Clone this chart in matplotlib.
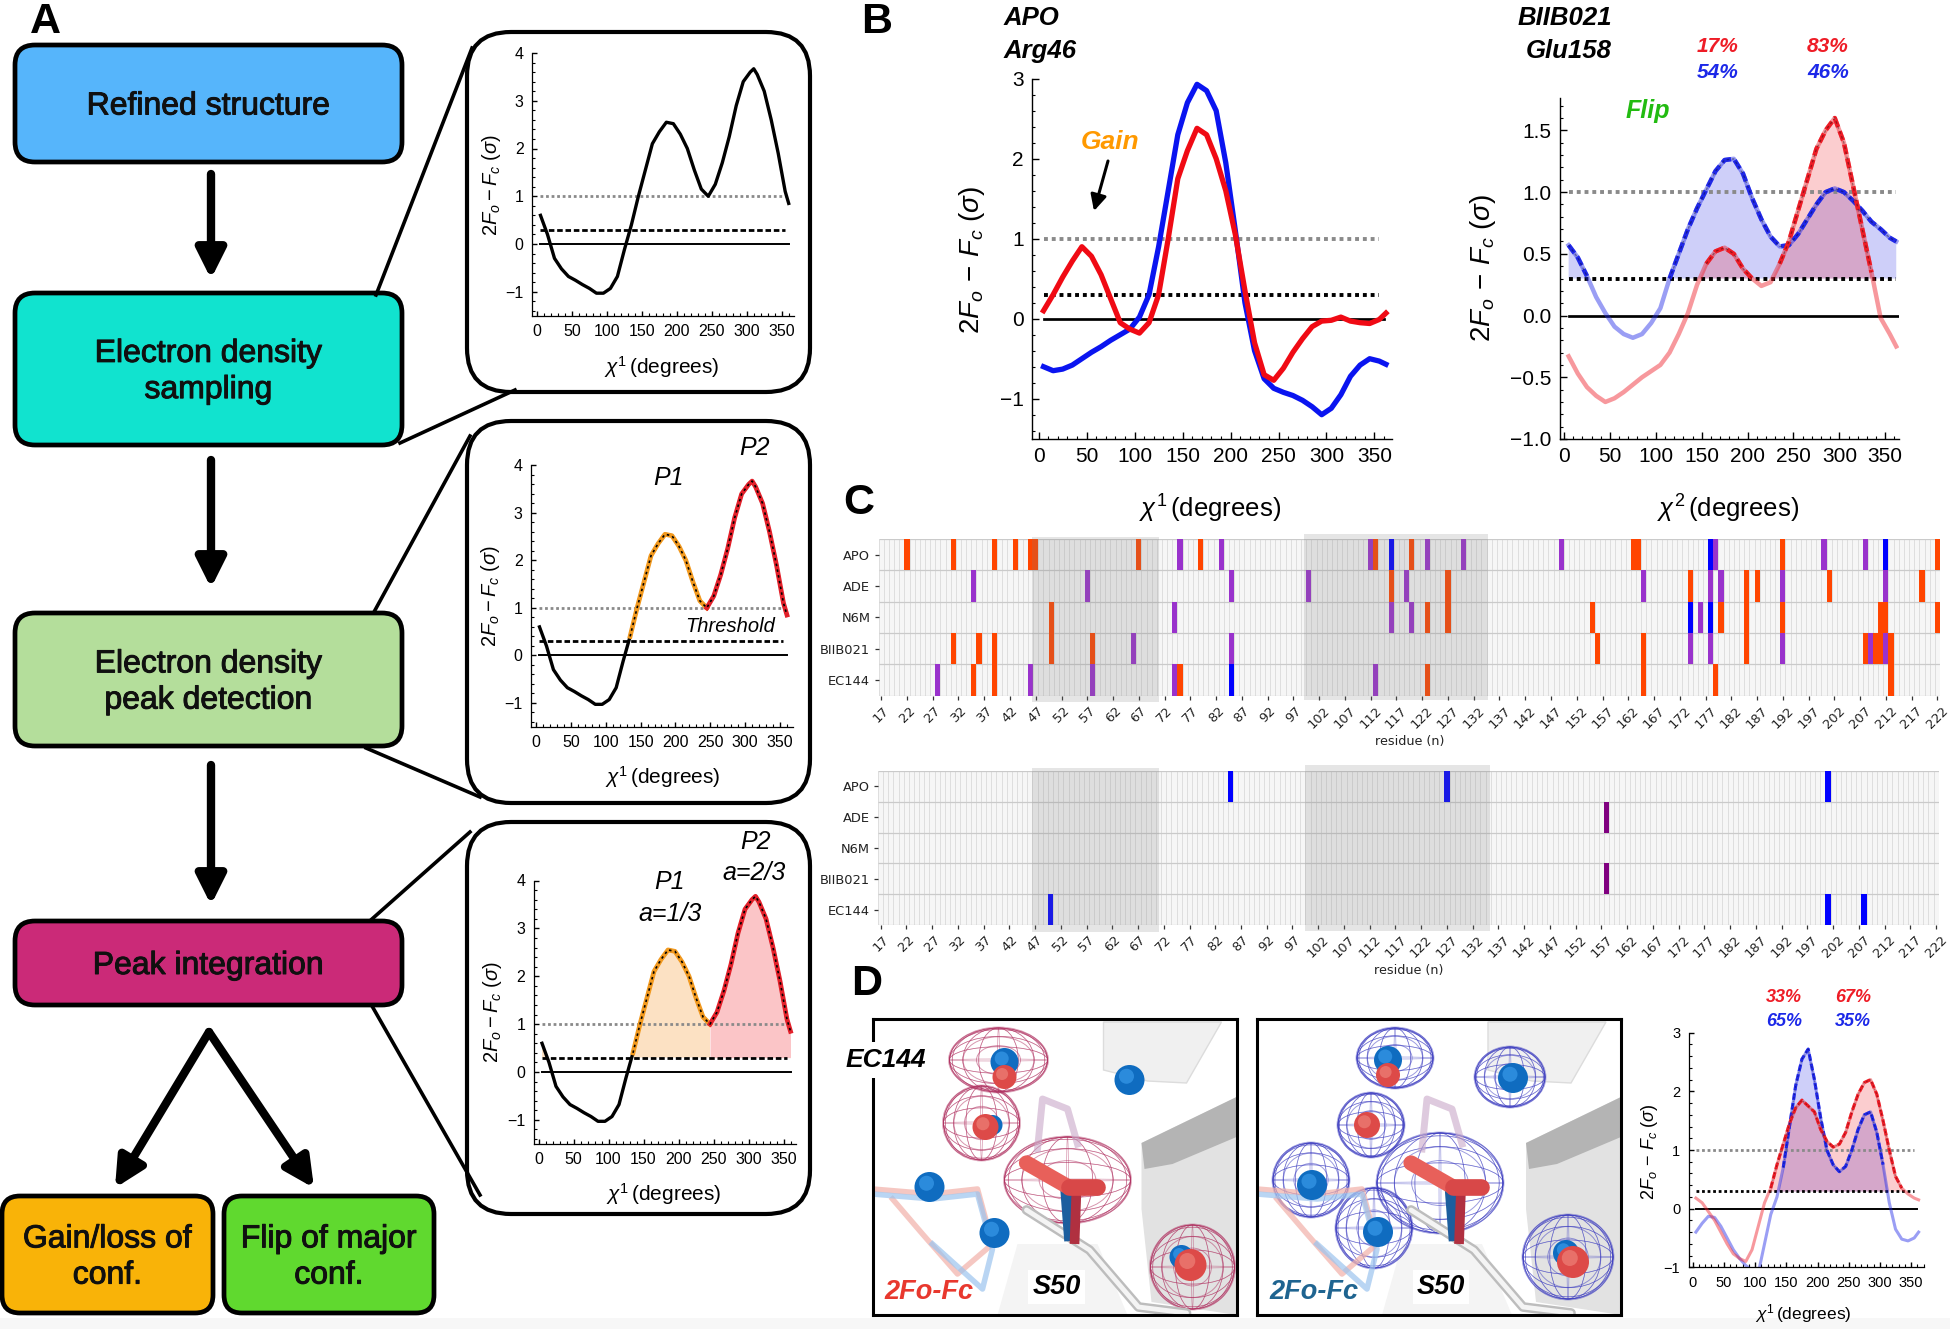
import numpy as np
import matplotlib
matplotlib.use('Agg')
import matplotlib.pyplot as plt
import matplotlib.patheffects as pe
from matplotlib.colors import ListedColormap
from matplotlib.patches import FancyBboxPatch, FancyArrowPatch, Rectangle, Ellipse, Polygon, Circle
from matplotlib.ticker import MultipleLocator

plt.rcParams['font.family'] = ['Liberation Sans', 'DejaVu Sans']
plt.rcParams['mathtext.fontset'] = 'custom'
plt.rcParams['mathtext.rm'] = 'Liberation Sans'
plt.rcParams['mathtext.it'] = 'Liberation Sans:italic'
plt.rcParams['mathtext.bf'] = 'Liberation Sans:bold'
plt.rcParams['mathtext.fallback'] = 'stix'

W, H = 1950, 1329

# example curve used in the three insets of panel A
inset_chi = list(range(5, 306, 10)) + [310, 315, 325, 335, 345, 355, 360]
inset_rho = [.6, .2, -.3, -.52, -.68, -.76, -.85, -.93, -1.03, -1.03, -.93, -.68, -.12, .4, 1.0, 1.55,
             2.1, 2.35, 2.55, 2.52, 2.3, 2.0, 1.55, 1.15, 1.0, 1.25, 1.7, 2.25, 2.9, 3.4, 3.6, 3.67, 3.55,
             3.2, 2.6, 1.9, 1.1, .85]

# panels B and D
chi_grid = list(range(5, 360, 10)) + [362]
arg46_blue = [-.6, -.65, -.63, -.58, -.5, -.42, -.35, -.27, -.2, -.13, .02, .3, .9, 1.6, 2.3, 2.7, 2.93,
              2.85, 2.6, 1.95, 1.1, .2, -.4, -.75, -.87, -.92, -.96, -1.02, -1.1, -1.2, -1.12, -.95,
              -.72, -.58, -.5, -.53, -.57]
arg46_red = [.1, .3, .52, .72, .9, .78, .55, .25, -.05, -.13, -.18, -.05, .3, 1.0, 1.75, 2.1, 2.38, 2.3,
             2.0, 1.6, 1.05, .35, -.3, -.7, -.77, -.62, -.42, -.25, -.1, -.03, -.02, .02, -.03, -.05,
             -.06, -.01, .07]
glu158_blue = [.57, .47, .32, .15, .02, -.09, -.15, -.18, -.15, -.06, .06, .3, .5, .7, .87, 1.02, 1.17,
               1.26, 1.27, 1.15, .95, .78, .64, .56, .57, .66, .78, .9, 1.0, 1.03, 1.0, .93, .85, .76,
               .7, .63, .6]
glu158_red = [-.33, -.47, -.58, -.65, -.7, -.67, -.62, -.56, -.5, -.45, -.4, -.3, -.15, .02, .25, .42,
              .52, .55, .5, .38, .3, .24, .27, .42, .6, .85, 1.1, 1.35, 1.5, 1.6, 1.4, 1.05, .7, .35,
              -.02, -.15, -.25]
s50_blue = [-.4, -.25, -.13, -.15, -.3, -.5, -.7, -.85, -.97, -1.05, -1.1, -.6, -.1, .2, .7, 1.4, 2.1,
            2.55, 2.72, 2.2, 1.55, 1.0, .75, .63, .72, 1.0, 1.35, 1.6, 1.65, 1.3, .75, .1, -.35, -.52,
            -.55, -.5, -.4]
s50_red = [.18, .1, -.05, -.2, -.4, -.6, -.77, -.85, -.9, -.7, -.3, .1, .35, .75, 1.1, 1.45, 1.72, 1.85,
           1.75, 1.65, 1.35, 1.15, 1.05, 1.1, 1.3, 1.65, 1.95, 2.15, 2.2, 1.95, 1.5, 1.0, .55, .35, .25,
           .18, .15]

# panel C, residues flagged per ligand
ligands = ['APO', 'ADE', 'N6M', 'BIIB021', 'EC144']
residues = list(range(17, 223))
residue_ticks = list(range(17, 223, 5))
chi1_orange = [[22, 31, 39, 43, 46, 47, 67, 79, 113, 120, 163, 164, 192, 222],
               [116, 127, 174, 185, 187, 201, 219],
               [50, 123, 127, 155, 180, 185, 192, 211, 212, 222],
               [31, 36, 39, 50, 58, 156, 165, 185, 208, 210, 211, 213],
               [35, 39, 75, 123, 165, 179, 213]]
chi1_purple = [[75, 83, 112, 123, 130, 149, 179, 200, 208],
               [35, 57, 85, 100, 119, 165, 178, 180, 192, 212],
               [74, 116, 120, 176],
               [66, 85, 174, 178, 192, 209, 212],
               [28, 46, 58, 74, 113]]
chi1_blue = [[116, 178, 212], [], [174, 178], [], [85]]
chi2_blue = [[85, 127, 201], [], [], [], [50, 201, 208]]
chi2_purple = [[], [158], [], [158], []]

thresholds = [1.0, 0.3, 0.0]


def px_axes(x0, y0, x1, y1, **kw):
    return fig.add_axes([x0 / W, 1 - y1 / H, (x1 - x0) / W, (y1 - y0) / H], **kw)


def style_axes(ax, xlim, ylim, yticks, fs, yminor=.2, lw=1.0):
    ax.patch.set_alpha(0)
    ax.set_xlim(xlim)
    ax.set_ylim(ylim)
    ax.spines['top'].set_visible(False)
    ax.spines['right'].set_visible(False)
    ax.spines['left'].set_linewidth(lw)
    ax.spines['bottom'].set_linewidth(lw)
    ax.set_xticks(range(0, 351, 50))
    ax.set_yticks(yticks)
    ax.xaxis.set_minor_locator(MultipleLocator(10))
    ax.yaxis.set_minor_locator(MultipleLocator(yminor))
    ax.tick_params(which='major', direction='in', length=5, width=1, labelsize=fs, pad=6)
    ax.tick_params(which='minor', direction='in', length=2.5, width=.8)
    ax.set_yticklabels([str(t).replace('-', '\u2212') for t in yticks])


def guides(ax, lw, x0=5, x1=355):
    ax.plot([x0, x1], [thresholds[0]] * 2, color='#8a8a8a', lw=lw, ls=(0, (1, 1)))
    ax.plot([x0, x1], [thresholds[1]] * 2, color='black', lw=lw, ls=(0, (1, 1)))
    ax.plot([x0, x1 + 5], [thresholds[2]] * 2, color='black', lw=lw * .7)


def peak_curve(ax, x, y, color, lw, fill=.22):
    x = np.array(x)
    y = np.array(y)
    cut = thresholds[1]
    ax.fill_between(x, cut, y, where=y >= cut, interpolate=True, color=color, alpha=fill, lw=0)
    ax.plot(x, y, color=color, lw=lw, alpha=.45)
    ax.plot(x, np.ma.masked_less(y, cut), color=color, lw=lw, ls=(0, (2.2, 1)))
    ax.plot(x, np.ma.masked_less(y, cut), color='black', lw=lw * .3, alpha=.35, ls=(0, (2, 2)))


def flag_matrix(groups):
    mat = np.zeros((len(ligands), len(residues)))
    for code, group in groups:
        for i, row in enumerate(group):
            for res in row:
                mat[i, res - 17] = code
    return mat


def heat(ax, mat, pad):
    nr, nc = mat.shape
    ax.set_facecolor('#F6F6F6')
    ax.vlines(np.arange(nc + 1), 0, nr, color='#DEDEDE', lw=.7, zorder=1)
    ax.hlines(np.arange(nr + 1), 0, nc, color='#CACACA', lw=.9, zorder=1)
    cmap = ListedColormap(['#FF4500', '#9932CC', '#0000FF', '#800080'])
    ax.pcolormesh(np.arange(nc + 1), np.arange(nr + 1), np.ma.masked_equal(mat, 0), cmap=cmap,
                  vmin=.5, vmax=4.5, zorder=2)
    ax.set_xlim(0, nc)
    ax.set_ylim(nr, 0)
    for s in ax.spines.values():
        s.set_visible(False)
    ax.set_yticks(np.arange(nr) + .5)
    ax.set_yticklabels(ligands, fontsize=9.4, family='DejaVu Sans')
    ax.set_xticks(np.array(residue_ticks) - 17 + .5)
    ax.set_xticklabels(residue_ticks, rotation=45, fontsize=9.4, family='DejaVu Sans', ha='center')
    ax.tick_params(axis='both', length=3, width=.9, pad=3, color='#333333', labelcolor='#222222')
    ax.set_xlabel('residue (n)', fontsize=9.2, family='DejaVu Sans', labelpad=pad, color='#222222')


def box(x0, y0, x1, y1, color, label, fs=23, rad=20):
    bg.add_patch(FancyBboxPatch((x0, y0), x1 - x0, y1 - y0, boxstyle=f'round,pad=0,rounding_size={rad}',
                                fc=color, ec='black', lw=3.4))
    t = bg.text((x0 + x1) / 2, (y0 + y1) / 2 + 3, label, ha='center', va='center', fontsize=fs,
                color='#101010', linespacing=1.27)
    t.set_path_effects([pe.withStroke(linewidth=.7, foreground='#101010')])


def arrow(x0, y0, x1, y1, ax=None, lw=6, ms=44):
    (ax or bg).add_patch(FancyArrowPatch((x0, y0), (x1, y1), arrowstyle='-|>', mutation_scale=ms,
                                         lw=lw, color='black', shrinkA=0, shrinkB=0))


def inset_box(y0, y1):
    bg.add_patch(FancyBboxPatch((467, y0), 343, y1 - y0, boxstyle='round,pad=0,rounding_size=44',
                                fc='white', ec='black', lw=3))


def inset(y4, y0, ybot, x0_px, x350_px):
    k = (x350_px - x0_px) / 350
    ax = px_axes(x0_px - 5, y4, x0_px + 368 * k, ybot)
    unit = (y0 - y4) / 4
    style_axes(ax, (-5 / k, 368), (-(ybot - y0) / unit, 4), [-1, 0, 1, 2, 3, 4], 11.5, lw=.9)
    guides(ax, 2.0, 5, 355)
    ax.lines[1].set_linestyle((0, (2, 1)))
    ax.set_ylabel(r'$2F_o-F_c\ (\sigma)$', fontsize=14.5, labelpad=2)
    ax.tick_params(which='major', length=3.5)
    ax.tick_params(which='minor', length=2)
    return ax


def mesh(ax, cx, cy, rx, ry, color, alpha=.5, rings=3):
    for f in np.linspace(1, .45, rings):
        ax.add_patch(Ellipse((cx, cy), 2 * rx * f, 2 * ry * f, fc='none', ec=color, lw=.7, alpha=alpha))
    for a in np.linspace(0, np.pi, 8, endpoint=False):
        ax.add_patch(Ellipse((cx, cy), 2 * rx, 2 * ry * abs(np.cos(a)) + 2, fc='none', ec=color, lw=.5, alpha=alpha))
        ax.add_patch(Ellipse((cx, cy), 2 * rx * abs(np.sin(a)) + 2, 2 * ry, fc='none', ec=color, lw=.5, alpha=alpha))


def ball(ax, x, y, r, color, hi):
    ax.add_patch(Circle((x, y), r, fc=color, ec='none', zorder=4))
    ax.add_patch(Circle((x - r * .2, y - r * .25), r * .5, fc=hi, ec='none', alpha=.6, zorder=4))


def structure_panel(x0, mesh_color, blobs, blue, red, label, label_color):
    # schematic of the structure picture, drawn in panel pixels
    ax = px_axes(x0, 1019, x0 + 364, 1315)
    ax.set_xlim(0, 364)
    ax.set_ylim(296, 0)
    ax.set_xticks([])
    ax.set_yticks([])
    for s in ax.spines.values():
        s.set_linewidth(2.2)
    ax.add_patch(Polygon([[231, 3], [349, 3], [314, 64], [275, 62], [231, 51]], fc='#F0F0F0', ec='#DCDCDC', lw=1))
    ax.add_patch(Polygon([[269, 124], [364, 78], [364, 296], [279, 283], [269, 190]], fc='#E2E2E2', ec='none'))
    ax.add_patch(Polygon([[269, 124], [364, 78], [364, 118], [300, 145], [272, 150]], fc='#B4B4B4', ec='none'))
    ax.add_patch(Polygon([[125, 296], [145, 225], [225, 225], [255, 296]], fc='#F4F4F4', ec='none'))
    ax.plot([154, 217, 266, 314], [191, 231, 288, 294], color='#BDBDBD', lw=7, solid_capstyle='round')
    ax.plot([154, 217, 266, 314], [191, 231, 288, 294], color='#F4F4F4', lw=3.5, solid_capstyle='round')
    ax.plot([0, 60, 105, 120, 85, 50, 20], [170, 175, 170, 225, 255, 215, 180], color='#F2B0A8', lw=4, alpha=.7)
    ax.plot([0, 60, 105, 120, 110, 60], [175, 180, 175, 230, 270, 225], color='#9CC4EE', lw=4, alpha=.7)
    ax.plot([165, 170, 195, 205], [130, 80, 90, 125], color='#C9A8C8', lw=5, alpha=.6)
    ax.plot([194, 198], [170, 222], color='#1C5E9E', lw=9, solid_capstyle='butt', zorder=5)
    ax.plot([204, 202], [170, 225], color='#B03040', lw=7, solid_capstyle='butt', zorder=5)
    ax.plot([154, 196], [144, 168], color='#E8605A', lw=11, solid_capstyle='round', zorder=5)
    ax.plot([196, 224], [168, 168], color='#D84848', lw=12, solid_capstyle='round', zorder=5)
    for cx, cy, rx, ry in blobs:
        mesh(ax, cx, cy, rx, ry, mesh_color)
    for x, y, r in blue:
        ball(ax, x, y, r, '#0F6CC0', '#3FA0F0')
    for x, y, r in red:
        ball(ax, x, y, r, '#DD4A48', '#F08A80')
    bb = dict(fc='white', ec='none', pad=3)
    ax.text(12, 273, label, fontsize=19.5, fontweight='bold', style='italic', color=label_color, ha='left', va='center', zorder=6)
    ax.text(160, 268, 'S50', fontsize=19.5, fontweight='bold', style='italic', ha='left', va='center', bbox=bb, zorder=6)
    return ax


fig = plt.figure(figsize=(W / 100, H / 100), dpi=100)
bg = fig.add_axes([0, 0, 1, 1])
bg.set_xlim(0, W)
bg.set_ylim(H, 0)
bg.axis('off')
bg.add_patch(Rectangle((0, 1318), W, 11, fc='#F7F7F7', ec='none'))

# panel A
for seg in [[(376, 295), (472, 48)], [(400, 443), (515, 390)], [(374, 612), (470, 436)], [(366, 748), (480, 797)],
            [(372, 919), (470, 832)], [(372, 1006), (480, 1195)]]:
    bg.plot(*zip(*seg), color='black', lw=2.6)
inset_box(32, 392)
inset_box(421, 803)
inset_box(822, 1214)

box(15, 45, 402, 162, '#56B5FB', 'Refined structure')
box(15, 293, 402, 445, '#11E3CF', 'Electron density\nsampling')
box(15, 613, 402, 746, '#B4DE9B', 'Electron density\npeak detection')
box(15, 921, 402, 1005, '#CB2A78', 'Peak integration')
box(2, 1196, 213, 1313, '#F9B308', 'Gain/loss of\nconf.', rad=18)
box(224, 1196, 434, 1313, '#60D92F', 'Flip of major\nconf.', rad=18)
arrow(211, 174, 211, 279)
arrow(211, 460, 211, 588)
arrow(211, 765, 211, 905)
arrow(209, 1032, 115, 1188)
arrow(209, 1032, 314, 1188)

chi_label = r'$\chi^1\!$ (degrees)'

ax1 = inset(53, 244, 316, 537, 781.7)
ax1.plot(inset_chi, inset_rho, color='black', lw=2.4)
bg.text(662, 367, chi_label, fontsize=15, ha='center', va='center')

ax2 = inset(465.4, 655.4, 726.6, 536, 780)
rho = np.array(inset_rho)
chi = np.array(inset_chi)
ax2.plot(chi, rho, color='black', lw=2.4)
ax2.plot(chi, np.ma.masked_where((chi < 135) | (chi > 245), rho), color='#F39A1F', lw=3.4)
ax2.plot(chi, np.ma.masked_where(chi < 245, rho), color='#E4202A', lw=3.4)
ax2.plot(chi, np.ma.masked_where(chi < 135, rho), color='black', lw=1.2, ls=(0, (1.5, 2)))
bg.text(663, 777, chi_label, fontsize=15, ha='center', va='center')
bg.text(668, 478, 'P1', fontsize=18, style='italic', ha='center', va='center')
bg.text(754, 448, 'P2', fontsize=18, style='italic', ha='center', va='center')
bg.text(730, 627, 'Threshold', fontsize=14.5, style='italic', ha='center', va='center', zorder=10)

ax3 = inset(880.5, 1072, 1143.7, 538.5, 783.5)
ax3.fill_between(chi, .3, rho, where=(rho >= .3) & (chi <= 245), interpolate=True, color='#F9B46B', alpha=.4, lw=0)
ax3.fill_between(chi, .3, rho, where=(rho >= .3) & (chi >= 245), interpolate=True, color='#F55A5F', alpha=.35, lw=0)
ax3.plot(chi, rho, color='black', lw=2.4)
ax3.plot(chi, np.ma.masked_where((chi < 135) | (chi > 245), rho), color='#F39A1F', lw=3.4)
ax3.plot(chi, np.ma.masked_where(chi < 245, rho), color='#E4202A', lw=3.4)
ax3.plot(chi, np.ma.masked_where(chi < 135, rho), color='black', lw=1.2, ls=(0, (1.5, 2)))
bg.text(664, 1194, chi_label, fontsize=15, ha='center', va='center')
bg.text(669, 882, 'P1', fontsize=18, style='italic', ha='center', va='center')
bg.text(670, 914, 'a=1/3', fontsize=18, style='italic', ha='center', va='center')
bg.text(755, 842, 'P2', fontsize=18, style='italic', ha='center', va='center')
bg.text(754, 873, 'a=2/3', fontsize=18, style='italic', ha='center', va='center')

# panel B
axb1 = px_axes(1032, 78.7, 1392, 438.7)
style_axes(axb1, (-7, 368.3), (-1.5, 3), [-1, 0, 1, 2, 3], 15)
guides(axb1, 2.8, 5, 355)
axb1.plot(chi_grid, arg46_blue, color='#0A14F0', lw=3.8)
axb1.plot(chi_grid, arg46_red, color='#F00A14', lw=3.8)
axb2 = px_axes(1560, 98.3, 1899, 439)
style_axes(axb2, (-4.4, 365), (-1, 1.76), [-1.0, -.5, 0.0, .5, 1.0, 1.5], 15, yminor=.1)
guides(axb2, 2.8, 5, 362)
peak_curve(axb2, chi_grid, glu158_blue, '#2028E8', 3.2)
peak_curve(axb2, chi_grid, glu158_red, '#EE1C26', 3.2)
bg.text(972, 260, r'$2F_o\,-\,F_c\ (\sigma)$', fontsize=20, rotation=90, ha='center', va='center')
bg.text(1483, 268, r'$2F_o\,-\,F_c\ (\sigma)$', fontsize=20, rotation=90, ha='center', va='center')

labels_b = [('APO', 1004, 18, 'left'), ('Arg46', 1004, 51, 'left'), ('BIIB021', 1518, 18, 'left'), ('Glu158', 1526, 51, 'left')]
for s, x, y, ha in labels_b:
    bg.text(x, y, s, fontsize=18.5, fontweight='bold', style='italic', ha=ha, va='center')
for s, x, y, c in [('17%', 1718, 46, '#EE1C26'), ('83%', 1828, 46, '#EE1C26'), ('54%', 1718, 72, '#1C28E8'), ('46%', 1828, 72, '#1C28E8')]:
    bg.text(x, y, s, fontsize=15, fontweight='bold', style='italic', color=c, ha='center', va='center')
bg.text(1648, 111, 'Flip', fontsize=18, fontweight='bold', style='italic', color='#22BB11', ha='center', va='center')
bg.text(1110, 142, 'Gain', fontsize=19, fontweight='bold', style='italic', color='#FF9900', ha='center', va='center')
arrow(1108, 161, 1094, 211, lw=2.2, ms=24)

# panel C
axc1 = px_axes(878.6, 539, 1940, 695.7)
heat(axc1, flag_matrix([(1, chi1_orange), (2, chi1_purple), (3, chi1_blue)]), 3)
axc2 = px_axes(878, 771, 1938.7, 925)
heat(axc2, flag_matrix([(3, chi2_blue), (4, chi2_purple)]), 3)
bg.text(1210, 509, r'$\chi^1\!$ (degrees)', fontsize=18.5, ha='center', va='center')
bg.text(1728, 509, r'$\chi^2\!$ (degrees)', fontsize=18.5, ha='center', va='center')

over = fig.add_axes([0, 0, 1, 1], zorder=20)
over.set_xlim(0, W)
over.set_ylim(H, 0)
over.axis('off')
for x0, x1, y0, y1 in [(1032, 1158.6, 536.7, 701.7), (1304, 1488, 534.3, 700), (1032, 1159.3, 768.3, 932.3), (1305, 1490, 764.7, 931)]:
    over.add_patch(Rectangle((x0, y0), x1 - x0, y1 - y0, fc='#808080', ec='none', alpha=.2))

# panel D
blobs_left = [(126, 41, 49, 32), (109, 104, 38, 37), (195, 161, 63, 43), (320, 248, 42, 42)]
blobs_right = [(138, 39, 38, 30), (253, 58, 35, 30), (114, 106, 33, 32), (54, 161, 38, 37), (117, 209, 38, 40), (183, 164, 63, 50), (311, 238, 45, 42)]
structure_panel(872.5, '#B03060', blobs_left, [(132, 43, 14), (257, 61, 15), (57, 168, 15), (122, 214, 15), (120, 106, 10), (309, 238, 12)],
                [(132, 58, 12), (113, 108, 13), (318, 246, 16)], '2Fo-Fc', '#E8382E')
structure_panel(1257, '#3A3AC0', blobs_right, [(131, 41, 14), (256, 59, 15), (55, 166, 15), (121, 213, 15), (309, 234, 13)],
                [(131, 56, 12), (110, 106, 13), (316, 243, 16)], '2Fo-Fc', '#1F6490')
over.add_patch(Rectangle((866, 1042), 58, 36, fc='white', ec='none'))
over.text(846, 1060, 'EC144', fontsize=19, fontweight='bold', style='italic', ha='left', va='center')

axd = px_axes(1688.6, 1032.7, 1923.6, 1267.3)
style_axes(axd, (-6.7, 370), (-1, 3), [-1, 0, 1, 2, 3], 10.5, lw=.9)
axd.tick_params(which='major', length=3.5)
axd.tick_params(which='minor', length=2)
guides(axd, 2.0, 5, 355)
peak_curve(axd, chi_grid, s50_blue, '#2028E8', 2.2)
peak_curve(axd, chi_grid, s50_red, '#EE1C26', 2.2)
bg.text(1649, 1152, r'$2F_o\,-\,F_c\ (\sigma)$', fontsize=13, rotation=90, ha='center', va='center')
bg.text(1803, 1314, r'$\chi^1\!$ (degrees)', fontsize=12.5, ha='center', va='center')
for s, x, y, c in [('33%', 1784, 998, '#EE1C26'), ('67%', 1853, 998, '#EE1C26'), ('65%', 1784, 1022, '#1C28E8'), ('35%', 1853, 1022, '#1C28E8')]:
    bg.text(x, y, s, fontsize=13, fontweight='bold', style='italic', color=c, ha='center', va='center')

for s, x, y in [('A', 45, 22), ('B', 877, 22), ('C', 859, 503), ('D', 867, 984)]:
    over.text(x, y, s, fontsize=31, fontweight='bold', ha='center', va='center')

fig.savefig('out.png', dpi=100)
